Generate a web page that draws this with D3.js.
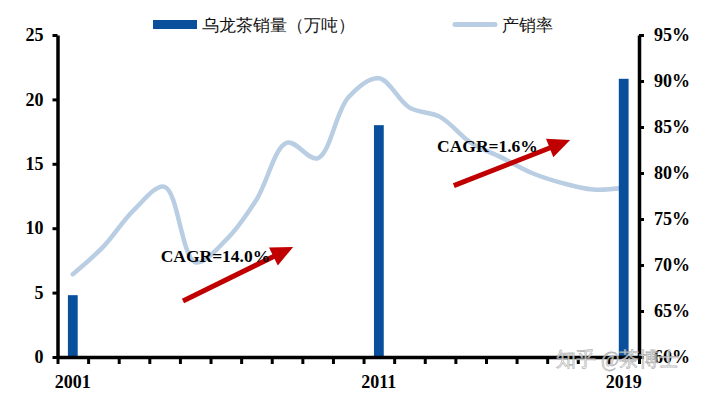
<!DOCTYPE html>
<html><head><meta charset="utf-8">
<script src="https://cdn.jsdelivr.net/npm/d3@7/dist/d3.min.js"></script>
<style>
body{margin:0;background:#fff;}
svg text{font-family:"Liberation Serif","Times New Roman",serif;}
</style></head>
<body><svg id="c" width="710" height="394"></svg>
<script>
const years = d3.range(2001, 2020).map(String);
const salesYears = ["2001", "2011", "2019"];
const salesValues = [4.8, 18.0, 21.6];
const ratioValues = [69.0, 72.0, 76.0, 78.5, 70.3, 72.7, 77.1, 83.3, 81.6, 88.2, 90.3, 87.1, 86.1, 83.3, 81.7, 80.0, 78.9, 78.2, 78.4];
const leftTicks = [0, 5, 10, 15, 20, 25];
const rightTicks = [60, 65, 70, 75, 80, 85, 90, 95];
const xLabels = ["2001", "2011", "2019"];
const legendNames = ["乌龙茶销量（万吨）", "产销率"];
// annotation arrows: [fromYear, fromValue(left axis), toYear, toValue]
const arrows = [
  {label: "CAGR=14.0%", from: [2004.6, 4.35], to: [2008.2, 8.55], text: [2003.87, 7.4]},
  {label: "CAGR=1.6%", from: [2013.45, 13.3], to: [2017.25, 16.85], text: [2012.9, 15.9]}
];

const svg = d3.select("#c");
const L = 57.5, R = 639, T = 35, B = 357;
const x = d3.scaleBand().domain(years).range([L, R]).padding(0);
const xi = d3.scaleLinear().domain([0, years.length]).range([L, R]);
const xYear = d3.scaleLinear().domain([2000.5, 2019.5]).range([L, R]);
const yL = d3.scaleLinear().domain([0, 25]).range([B, T]);
const yR = d3.scaleLinear().domain([60, 95]).range([B, T]);
const barW = x.step() * 0.32;

// line
const line = d3.line()
  .x((d, i) => x(years[i]) + x.bandwidth() / 2)
  .y(d => yR(d))
  .curve(d3.curveCatmullRom.alpha(0.5));
svg.append("path").datum(ratioValues)
  .attr("d", line).attr("fill", "none")
  .attr("stroke", "#b9cde3").attr("stroke-width", 4.5).attr("stroke-linecap", "round");

// bars
svg.selectAll("rect.bar").data(salesYears).join("rect")
  .attr("class", "bar")
  .attr("x", d => x(d) + x.bandwidth() / 2 - barW / 2)
  .attr("width", barW)
  .attr("y", (d, i) => yL(salesValues[i]))
  .attr("height", (d, i) => B - yL(salesValues[i]))
  .attr("fill", "#0a4f9b");

// axes
function styleAxis(g) {
  g.selectAll(".domain").attr("stroke", "#000").attr("stroke-width", 3.5);
  g.selectAll(".tick line").attr("stroke", "#000").attr("stroke-width", 3);
  g.selectAll("text").attr("fill", "#000").attr("font-weight", "bold").attr("font-size", 18)
    .attr("font-family", "Liberation Serif, Times New Roman, serif");
}
svg.append("g").attr("transform", `translate(${L},0)`)
  .call(d3.axisLeft(yL).tickValues(leftTicks).tickSize(5).tickSizeOuter(0).tickPadding(9))
  .call(styleAxis);
svg.append("g").attr("transform", `translate(${R},0)`)
  .call(d3.axisRight(yR).tickValues(rightTicks).tickSize(5).tickSizeOuter(0).tickPadding(10).tickFormat(d => d + "%"))
  .call(styleAxis);
svg.append("g").attr("transform", `translate(0,${B})`)
  .call(d3.axisBottom(xi).tickValues(d3.range(years.length + 1)).tickSize(7).tickSizeOuter(0).tickFormat(""))
  .call(styleAxis);
svg.append("g").attr("transform", `translate(0,${B})`)
  .call(d3.axisBottom(x).tickValues(xLabels).tickSize(0).tickPadding(18))
  .call(styleAxis)
  .call(g => g.select(".domain").remove());

// arrows
const red = "#c00000";
arrows.forEach(a => {
  const x0 = xYear(a.from[0]), y0 = yL(a.from[1]);
  const x1 = xYear(a.to[0]), y1 = yL(a.to[1]);
  const dx = x1 - x0, dy = y1 - y0, len = Math.hypot(dx, dy);
  const ux = dx / len, uy = dy / len;
  const hl = 22, hw = 10;
  const bx = x1 - ux * hl, by = y1 - uy * hl;
  svg.append("line").attr("x1", x0).attr("y1", y0).attr("x2", bx + ux * 2).attr("y2", by + uy * 2)
    .attr("stroke", red).attr("stroke-width", 5);
  svg.append("polygon")
    .attr("points", [[x1, y1], [bx - uy * hw, by + ux * hw], [bx + uy * hw, by - ux * hw]].map(p => p.join(",")).join(" "))
    .attr("fill", red);
  svg.append("text").attr("x", xYear(a.text[0])).attr("y", yL(a.text[1]))
    .attr("font-size", 17.5).attr("font-weight", "bold").attr("fill", "#000").text(a.label);
});

// legend
const lg = svg.append("g");
lg.append("rect").attr("x", 153).attr("y", 20).attr("width", 44).attr("height", 9).attr("fill", "#0a4f9b");
lg.append("text").attr("x", 202).attr("y", 30.5).attr("font-size", 17)
  .attr("font-family", "Noto Sans CJK SC").attr("fill", "#111").text(legendNames[0]);
lg.append("line").attr("x1", 455).attr("x2", 495).attr("y1", 24.5).attr("y2", 24.5)
  .attr("stroke", "#b9cde3").attr("stroke-width", 5).attr("stroke-linecap", "round");
lg.append("text").attr("x", 502).attr("y", 30.5).attr("font-size", 17)
  .attr("font-family", "Noto Sans CJK SC").attr("fill", "#111").text(legendNames[1]);

// watermark
svg.append("text").attr("x", 556).attr("y", 366).attr("font-size", 20)
  .attr("font-family", "Noto Sans CJK SC").attr("fill", "#ffffff").attr("fill-opacity", 0.75)
  .attr("stroke", "#9a9a9a").attr("stroke-width", 0.8).attr("stroke-opacity", 0.7)
  .text("知乎 @茶博士");
</script></body></html>
